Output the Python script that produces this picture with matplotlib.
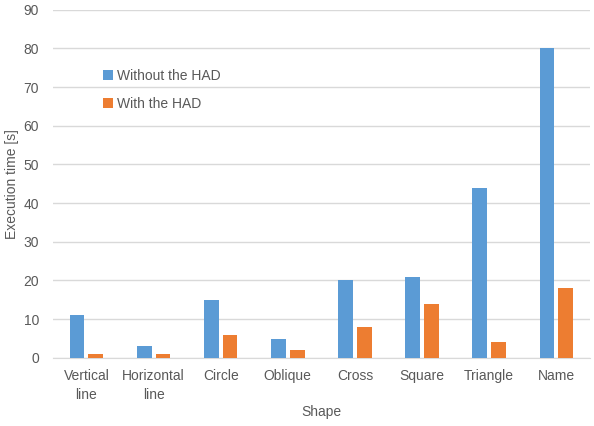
import numpy as np
import matplotlib.pyplot as plt

plt.rcParams['font.family'] = ['Liberation Sans', 'DejaVu Sans']

shapes = ['Vertical\nline', 'Horizontal\nline', 'Circle', 'Oblique', 'Cross', 'Square', 'Triangle', 'Name']
without_had = [11, 3, 15, 5, 20, 21, 44, 80]
with_had = [1, 1, 6, 2, 8, 14, 4, 18]

text_col = '#595959'
fig = plt.figure(figsize=(5.94, 4.26), dpi=100)
ax = fig.add_axes([0.089, 0.160, 0.904, 0.817])

x = np.arange(len(shapes))
w = 0.22
ax.bar(x - 0.14, without_had, w, color='#5B9BD5', label='Without the HAD', zorder=3)
ax.bar(x + 0.14, with_had, w, color='#ED7D31', label='With the HAD', zorder=3)

ax.set_xlim(-0.5, len(shapes) - 0.5)
ax.set_ylim(0, 90)
ax.set_yticks(range(0, 91, 10))
ax.set_xticks(x)
ax.set_xticklabels(shapes, fontsize=10, color=text_col, linespacing=1.5)
ax.tick_params(axis='y', labelsize=10, labelcolor=text_col, length=0, pad=10)
ax.tick_params(axis='x', length=0, pad=8)
ax.grid(axis='y', color='#D9D9D9', linewidth=1, zorder=0)
for s in ['top', 'right', 'left']:
    ax.spines[s].set_visible(False)
ax.spines['bottom'].set_color('#D9D9D9')

ax.set_ylabel('Execution time [s]', fontsize=10, color=text_col, va='center')
ax.yaxis.set_label_coords(-0.076, 0.5)
ax.set_xlabel('Shape', fontsize=10, color=text_col, labelpad=2)

ax.legend(loc='upper left', bbox_to_anchor=(0.07, 0.866), frameon=False, fontsize=10,
          labelcolor=text_col, handlelength=0.7, handleheight=0.7, handletextpad=0.3,
          labelspacing=1.0)

fig.savefig('out.png', dpi=100)
